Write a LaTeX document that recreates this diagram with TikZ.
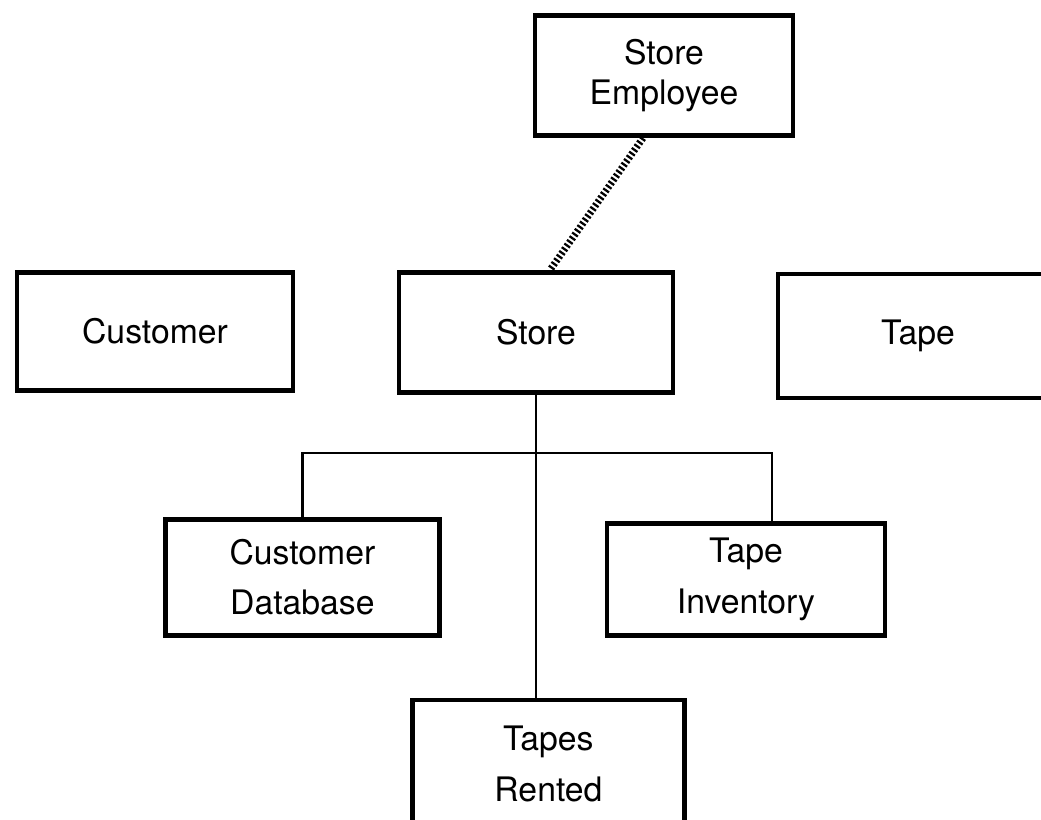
\documentclass[tikz,border=0pt]{standalone}
\usepackage{fontspec}
\setmainfont{TeX Gyre Heros}
\usetikzlibrary{positioning}
\tikzset{
  box/.style={rectangle, draw=black, line width=3.4pt, align=center, text centered, font=\fontsize{24}{36}\selectfont},
  link/.style={draw=black, line width=1.6pt},
  hatch/.style={draw=black, line width=5pt, dash pattern=on 1.6pt off 1.6pt}
}
\begin{document}
\begin{tikzpicture}
	\useasboundingbox (0,0) rectangle (26.025,-20.5);
	\clip (0,0) rectangle (26.025,-20.5);
	\node[box, minimum width=6.45cm, minimum height=3.0cm, font=\fontsize{24}{28}\selectfont] (emp) at (16.6,-1.89) {Store\\Employee};
	\node[box, minimum width=6.9cm, minimum height=2.95cm] (cust) at (3.875,-8.29) {Customer};
	\node[box, minimum width=6.85cm, minimum height=3.0cm] (store) at (13.4,-8.31) {Store};
	\node[box, minimum width=7.0cm, minimum height=3.1cm] (tape) at (22.95,-8.4) {Tape};
	\node[box, minimum width=6.85cm, minimum height=2.9cm] (cdb) at (7.56,-14.43) {Customer\\Database};
	\node[box, minimum width=6.95cm, minimum height=2.8cm] (tinv) at (18.65,-14.49) {Tape\\Inventory};
	\node[box, minimum width=6.8cm, minimum height=3.2cm] (rent) at (13.71,-19.1) {Tapes\\Rented};
	%
	\coordinate (bus) at ([yshift=-1.45cm]store.south);
	\draw[hatch] ([xshift=-0.525cm]emp.south) -- ([xshift=0.35cm]store.north);
	\draw[link] (store.south) -- (store.south |- rent.north);
	\draw[link] (cdb.north) |- (bus) -| ([xshift=0.65cm]tinv.north);
\end{tikzpicture}
\end{document}
